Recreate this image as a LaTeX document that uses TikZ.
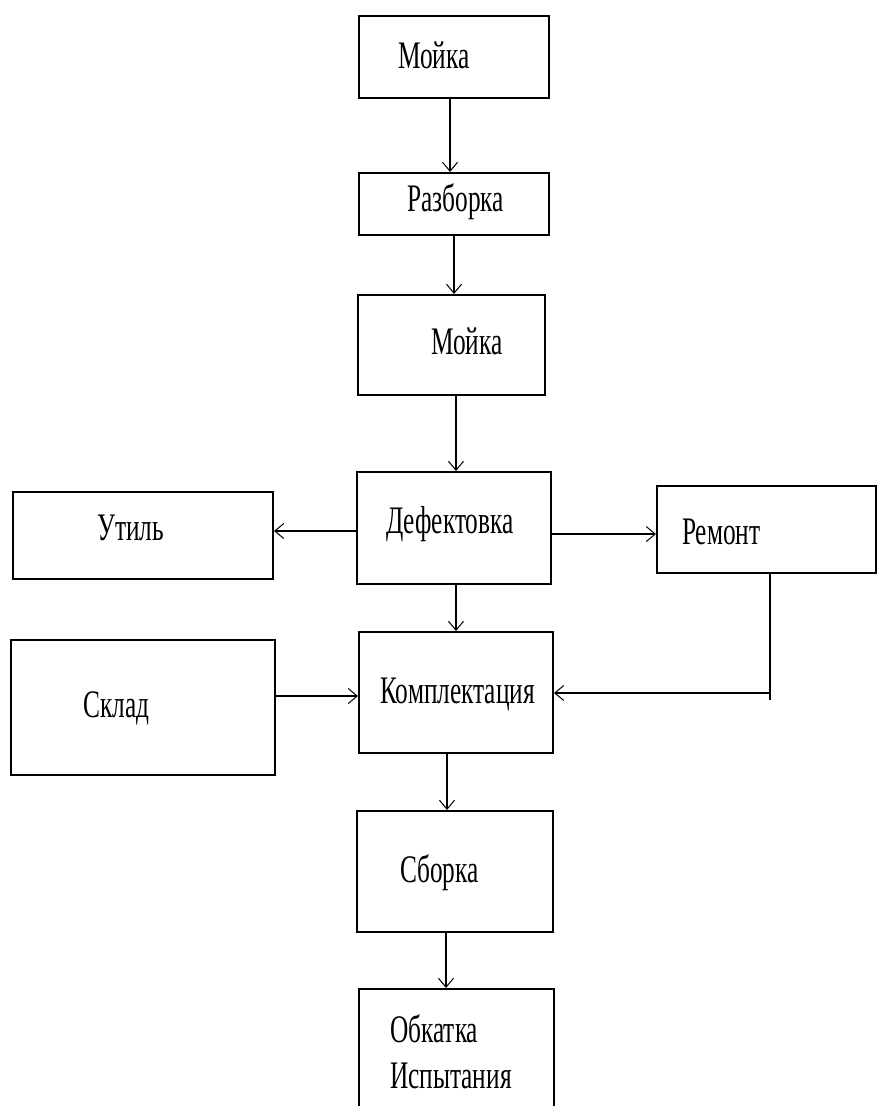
\documentclass[tikz,border=0pt]{standalone}
\usepackage{fontspec}
\setmainfont{Liberation Serif}
\newfontfamily\lblfont[FakeStretch=0.65]{Liberation Serif}
\usetikzlibrary{arrows.meta}

\begin{document}
\begin{tikzpicture}[x=1pt,y=-1pt,
  box/.style={draw=black, line width=2pt, rectangle, inner sep=0pt},
  lbl/.style={anchor=base west, inner sep=0pt, font=\lblfont\fontsize{39}{46}\selectfont, align=left},
  arr/.style={draw=black, line width=1.4pt, -{Straight Barb[length=9pt,width=15pt,line width=1pt]}},
  link/.style={draw=black, line width=1.4pt}]
  \clip (0,0) rectangle (878,1106);
  \fill[white] (0,0) rectangle (878,1106);

  % process boxes
  \node[box, minimum width=190pt, minimum height=82pt]  (m1)    at (454,57)     {};
  \node[box, minimum width=190pt, minimum height=62pt]  (raz)   at (454,204)    {};
  \node[box, minimum width=187pt, minimum height=100pt] (m2)    at (451.5,345)  {};
  \node[box, minimum width=194pt, minimum height=112pt] (def)   at (454,528)    {};
  \node[box, minimum width=260pt, minimum height=87pt]  (util)  at (143,535.5)  {};
  \node[box, minimum width=219pt, minimum height=87pt]  (rem)   at (766.5,529.5){};
  \node[box, minimum width=194pt, minimum height=121pt] (kompl) at (456,692.5)  {};
  \node[box, minimum width=264pt, minimum height=135pt] (sklad) at (143,707.5)  {};
  \node[box, minimum width=196pt, minimum height=121pt] (sb)    at (455,871.5)  {};
  \node[box, minimum width=195pt, minimum height=141pt] (obk)   at (456.5,1059.5){};

  % labels
  \node[lbl] (t-m1)    at (398,68)   {Мойка};
  \node[lbl] (t-raz)   at (407,211)  {Разборка};
  \node[lbl] (t-m2)    at (431,354)  {Мойка};
  \node[lbl] (t-def)   at (386,533)  {Дефектовка};
  \node[lbl] (t-util)  at (97,540)   {Утиль};
  \node[lbl] (t-rem)   at (682,544)  {Ремонт};
  \node[lbl] (t-kompl) at (380,703)  {Комплектация};
  \node[lbl] (t-sklad) at (83,717)   {Склад};
  \node[lbl] (t-sb)    at (400,882)  {Сборка};
  % two-line label: the base anchor sits on the last line
  \node[lbl] (t-obk)   at (390,1088) {Обкатка\\Испытания};

  % main flow
  \draw[arr] (450,0 |- m1.south)  -- (450,0 |- raz.north);
  \draw[arr] (454,0 |- raz.south) -- (454,0 |- m2.north);
  \draw[arr] (456,0 |- m2.south)  -- (456,0 |- def.north);
  \draw[arr] (456,0 |- def.south) -- (456,0 |- kompl.north);
  \draw[arr] (447,0 |- kompl.south) -- (447,0 |- sb.north);
  \draw[arr] (446,0 |- sb.south)  -- (446,0 |- obk.north);

  % side branches
  \draw[arr] (def.west |- 0,531) -- (util.east |- 0,531);
  \draw[arr] (def.east |- 0,534) -- (rem.west |- 0,534);
  \draw[arr] (sklad.east |- 0,696) -- (kompl.west |- 0,696);

  % return from repair
  \coordinate (turn) at (770,693);
  \coordinate (tail) at (770,700);
  \draw[link] (770,0 |- rem.south) -- (tail);
  \draw[arr] (turn) -- (kompl.east |- turn);
\end{tikzpicture}
\end{document}
